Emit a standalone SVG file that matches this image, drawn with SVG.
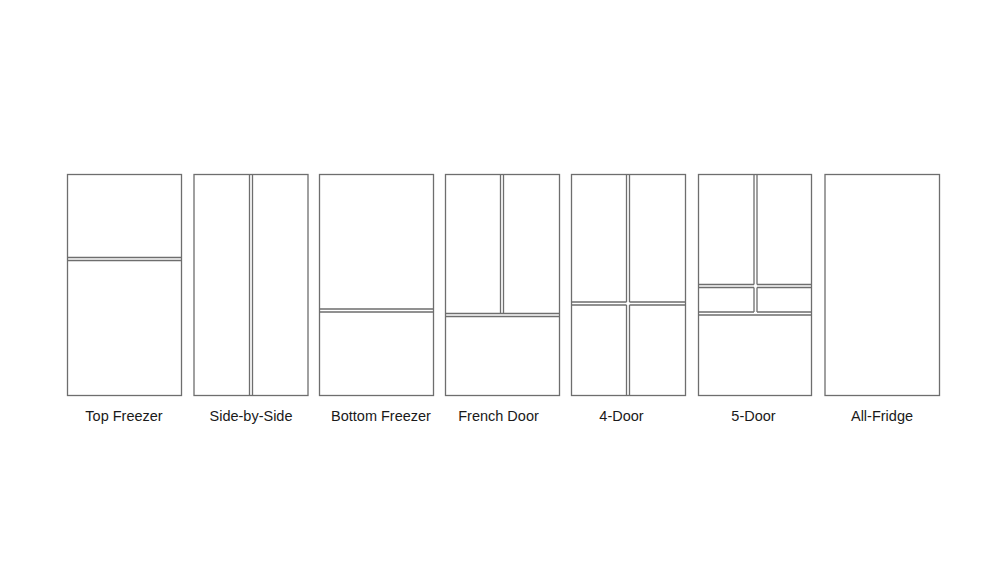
<svg xmlns="http://www.w3.org/2000/svg" width="1000" height="563" viewBox="0 0 1000 563">
<style>
.b{fill:#fff;stroke:#6e6e6e;stroke-width:1.3}
.l{stroke:#6e6e6e;stroke-width:1.3;fill:none}
.t{font-family:"Liberation Sans",Arial,sans-serif;font-size:14.5px;fill:#1a1a1a;text-anchor:middle}
</style>
<rect width="1000" height="563" fill="#fff"/>
<g id="top-freezer">
<rect class="b" x="67.5" y="174.5" width="114" height="221"/>
<path class="l" d="M67.5 257.5H181.5M67.5 260.5H181.5"/>
<text class="t" x="124" y="420.5">Top Freezer</text>
</g>
<g id="side-by-side">
<rect class="b" x="194" y="174.5" width="114" height="221"/>
<path class="l" d="M249.5 174.5V395.5M252.5 174.5V395.5"/>
<text class="t" x="251" y="420.5">Side-by-Side</text>
</g>
<g id="bottom-freezer">
<rect class="b" x="319.5" y="174.5" width="114" height="221"/>
<path class="l" d="M319.5 309H433.5M319.5 312H433.5"/>
<text class="t" x="381" y="420.5">Bottom Freezer</text>
</g>
<g id="french-door">
<rect class="b" x="445.5" y="174.5" width="114" height="221"/>
<path class="l" d="M500.5 174.5V313.5M503.5 174.5V313.5M445.5 313.5H559.5M445.5 316.5H559.5"/>
<text class="t" x="498.5" y="420.5">French Door</text>
</g>
<g id="four-door">
<rect class="b" x="571.5" y="174.5" width="114" height="221"/>
<path class="l" d="M626.5 174.5V302M629.5 174.5V302M626.5 305V395.5M629.5 305V395.5M571.5 302H626.5M629.5 302H685.5M571.5 305H626.5M629.5 305H685.5"/>
<text class="t" x="621.5" y="420.5">4-Door</text>
</g>
<g id="five-door">
<rect class="b" x="698.5" y="174.5" width="113" height="221"/>
<path class="l" d="M754 174.5V284.5M757 174.5V284.5M698.5 284.5H754M757 284.5H811.5M754 287.5V312M757 287.5V312M698.5 287.5H754M757 287.5H811.5M698.5 312H754M757 312H811.5M698.5 315H811.5"/>
<text class="t" x="753.5" y="420.5">5-Door</text>
</g>
<g id="all-fridge">
<rect class="b" x="825" y="174.5" width="114.5" height="221"/>
<text class="t" x="882" y="420.5">All-Fridge</text>
</g>
<g id="connectors"/>
</svg>
